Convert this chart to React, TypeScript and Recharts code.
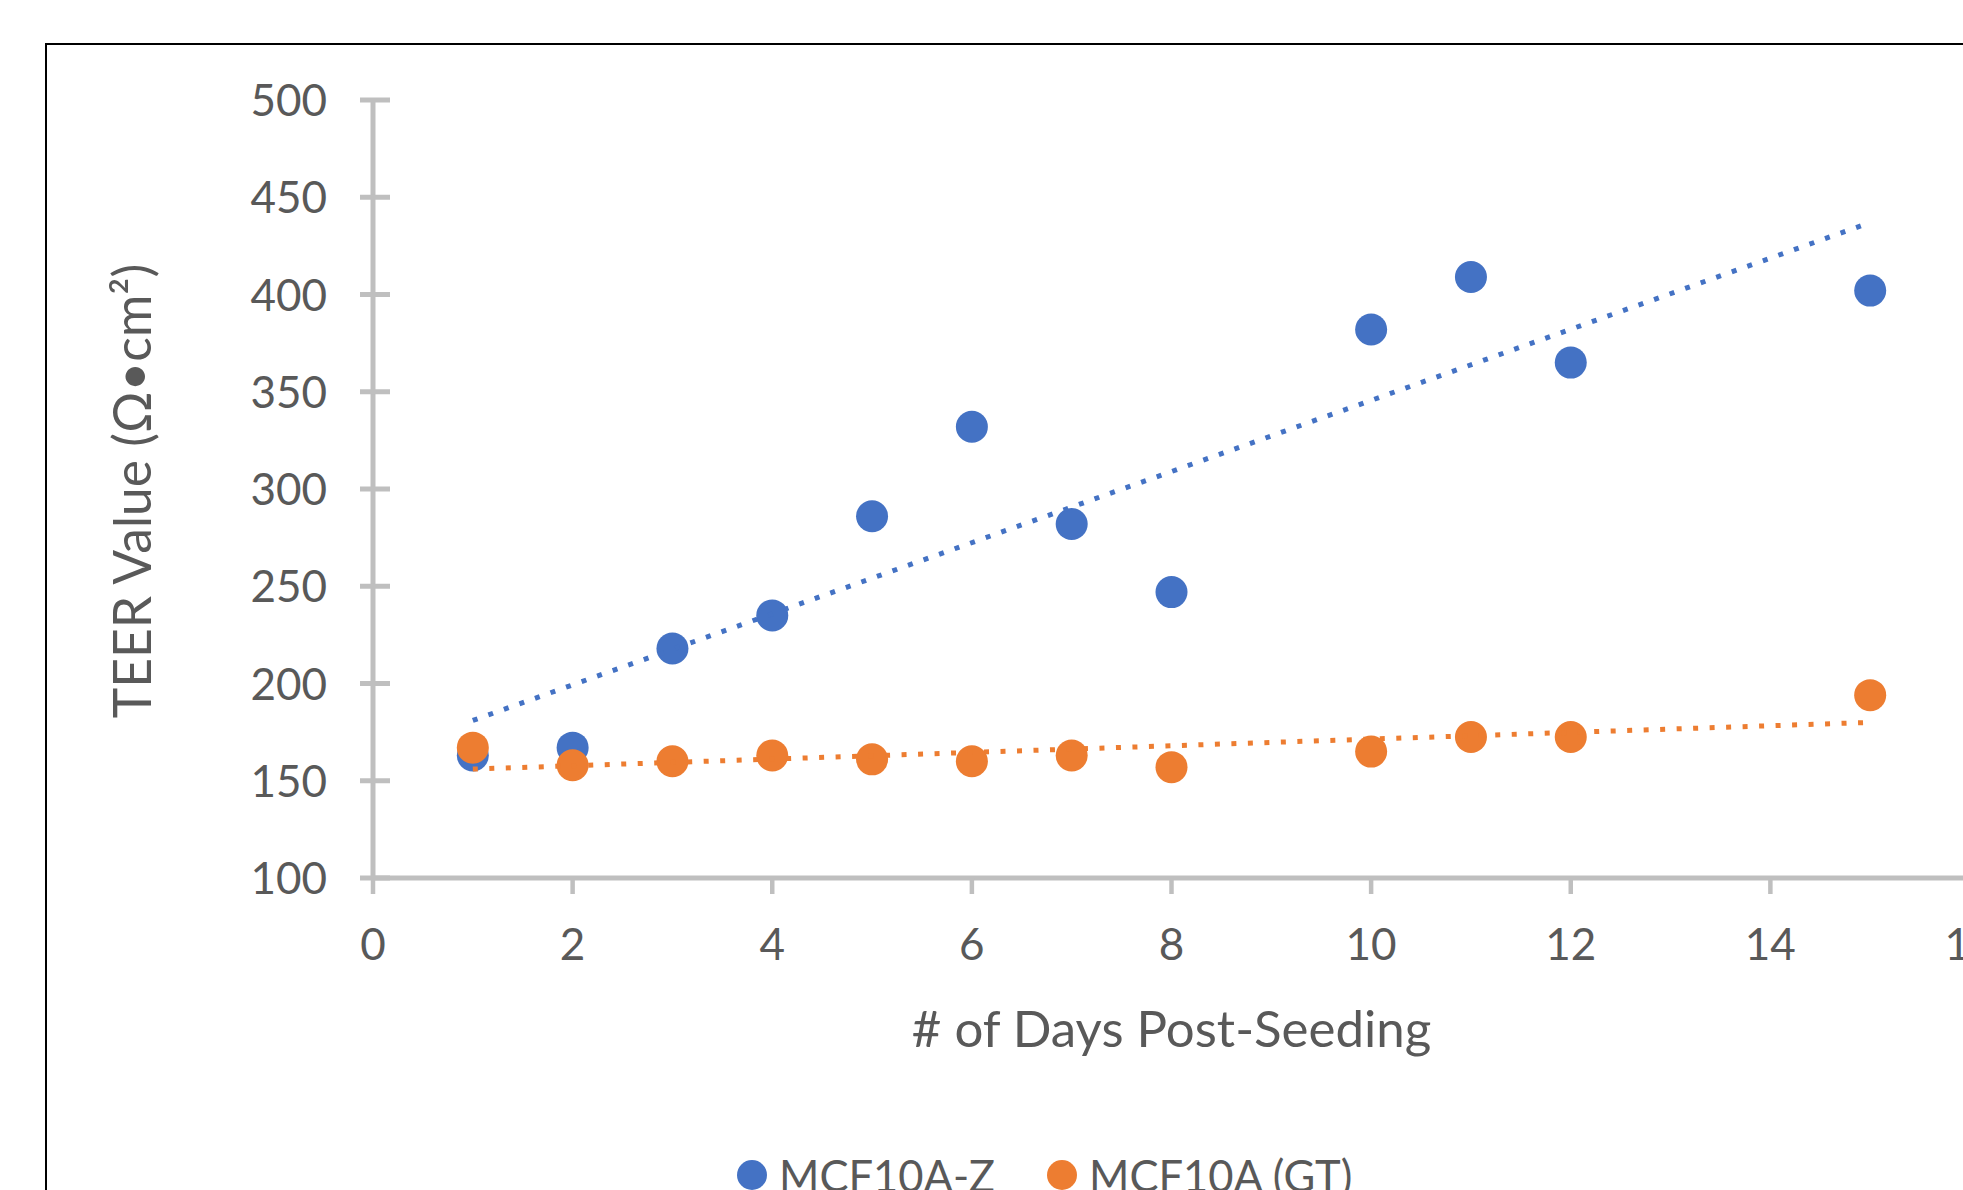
import React from 'react';
import { ScatterChart, Scatter, XAxis, YAxis, Legend, Label } from 'recharts';

// ---- data ----
const days = [1, 2, 3, 4, 5, 6, 7, 8, 10, 11, 12, 15];
const mcf10aZ = [163, 167, 218, 235, 286, 332, 282, 247, 382, 409, 365, 402];
const mcf10aGT = [167, 158, 160, 163, 161, 160, 163, 157, 165, 172.5, 172.5, 194];
const trendDays = [1, 15];
const mcf10aZTrend = [181, 437];
const mcf10aGTTrend = [156, 180];
const xTicks = [0, 2, 4, 6, 8, 10, 12, 14, 16];
const yTicks = [100, 150, 200, 250, 300, 350, 400, 450, 500];
const seriesNames = ['MCF10A-Z', 'MCF10A (GT)'];
const xTitle = '# of Days Post-Seeding';
const yTitle = 'TEER Value (Ω•cm²)';

const BLUE = '#4472C4';
const ORANGE = '#ED7D31';
const AXIS = '#BFBFBF';
const TEXT = '#595959';
const FONT = 'Lato, "Open Sans", sans-serif';

const toPoints = (xs: number[], ys: number[]) => xs.map((x, i) => ({ x, y: ys[i] }));

const zData = toPoints(days, mcf10aZ);
const gtData = toPoints(days, mcf10aGT);
const zTrend = toPoints(trendDays, mcf10aZTrend);
const gtTrend = toPoints(trendDays, mcf10aGTTrend);

const YTick = (props: any) => {
  const { x, y, payload } = props;
  return (
    <g>
      <line x1={x - 13} x2={x + 17} y1={y} y2={y} stroke={AXIS} strokeWidth={5} />
      <text x={x - 46} y={y} dy={16} textAnchor="end" fill={TEXT} fontSize={44} fontFamily={FONT}>
        {payload.value}
      </text>
    </g>
  );
};

const XTick = (props: any) => {
  const { x, y, payload } = props;
  return (
    <g>
      <line x1={x} x2={x} y1={y} y2={y + 16} stroke={AXIS} strokeWidth={4.5} />
      <text x={x} y={y + 82} textAnchor="middle" fill={TEXT} fontSize={44} fontFamily={FONT}>
        {payload.value}
      </text>
    </g>
  );
};

const dotShape = (color: string) => (props: any) => (
  <circle cx={props.cx} cy={props.cy} r={16} fill={color} />
);
const noShape = () => <g />;

const XTitle = (p: any) => {
  const vb = p.viewBox || { x: 373, y: 878, width: 1597, height: 422 };
  return (
    <text x={vb.x + vb.width / 2} y={vb.y + 169} textAnchor="middle" fill={TEXT} fontSize={51} fontFamily={FONT}>
      {xTitle}
    </text>
  );
};

const YTitle = (p: any) => {
  const vb = p.viewBox || { x: 0, y: 100, width: 373, height: 778 };
  const cx = 151;
  const cy = vb.y + vb.height / 2 + 2;
  return (
    <text x={cx} y={cy} textAnchor="middle" transform={`rotate(-90, ${cx}, ${cy})`} fill={TEXT} fontSize={51.5} fontFamily={FONT}>
      {yTitle}
    </text>
  );
};

const legendColors = [BLUE, ORANGE];

const LegendContent = () => (
  <div
    style={{
      display: 'flex',
      alignItems: 'center',
      paddingLeft: 737,
      fontFamily: FONT,
      fontSize: 43.5,
      color: TEXT,
      lineHeight: 'normal',
      whiteSpace: 'nowrap',
    }}
  >
    {seriesNames.map((name, i) => (
      <div key={name} style={{ display: 'flex', alignItems: 'center', marginRight: 52 }}>
        <span
          style={{
            display: 'inline-block',
            width: 30,
            height: 30,
            borderRadius: '50%',
            background: legendColors[i],
            marginRight: 12,
          }}
        />
        <span>{name}</span>
      </div>
    ))}
  </div>
);

export default function App() {
  return (
    <div
      style={{
        position: 'fixed',
        left: 0,
        top: 0,
        width: 1963,
        height: 1190,
        overflow: 'hidden',
        background: '#fff',
      }}
    >
      <div
        style={{
          position: 'absolute',
          left: 45,
          top: 43,
          width: 4000,
          height: 4000,
          border: '2.5px solid #000',
        }}
      />
      <div style={{ position: 'absolute', left: 0, top: 0 }}>
        <ScatterChart width={2200} height={1300} margin={{ top: 100, right: 230, left: 0, bottom: 0 }}>
          <XAxis
            type="number"
            dataKey="x"
            domain={[0, 16]}
            ticks={xTicks}
            allowDataOverflow
            height={422}
            tickSize={0}
            tickMargin={0}
            tickLine={false}
            tick={<XTick />}
            axisLine={{ stroke: AXIS, strokeWidth: 5 }}
          >
            <Label content={<XTitle />} />
          </XAxis>
          <YAxis
            type="number"
            dataKey="y"
            domain={[100, 500]}
            ticks={yTicks}
            allowDataOverflow
            width={373}
            tickSize={0}
            tickMargin={0}
            tickLine={false}
            tick={<YTick />}
            axisLine={{ stroke: AXIS, strokeWidth: 5 }}
          >
            <Label content={<YTitle />} />
          </YAxis>
          <Legend
            layout="horizontal"
            verticalAlign="middle"
            align="center"
            content={<LegendContent />}
            wrapperStyle={{ left: 0, top: 1149, width: 1963 }}
          />
          <Scatter name={seriesNames[0]} data={zData} fill={BLUE} shape={dotShape(BLUE)} isAnimationActive={false} />
          <Scatter name={seriesNames[1]} data={gtData} fill={ORANGE} shape={dotShape(ORANGE)} isAnimationActive={false} />
          <Scatter
            name="zTrend"
            data={zTrend}
            fill={BLUE}
            shape={noShape}
            line={{ stroke: BLUE, strokeWidth: 5, strokeDasharray: '5 11.5' }}
            lineType="joint"
            legendType="none"
            isAnimationActive={false}
          />
          <Scatter
            name="gtTrend"
            data={gtTrend}
            fill={ORANGE}
            shape={noShape}
            line={{ stroke: ORANGE, strokeWidth: 5, strokeDasharray: '5 11.5' }}
            lineType="joint"
            legendType="none"
            isAnimationActive={false}
          />
        </ScatterChart>
      </div>
    </div>
  );
}
